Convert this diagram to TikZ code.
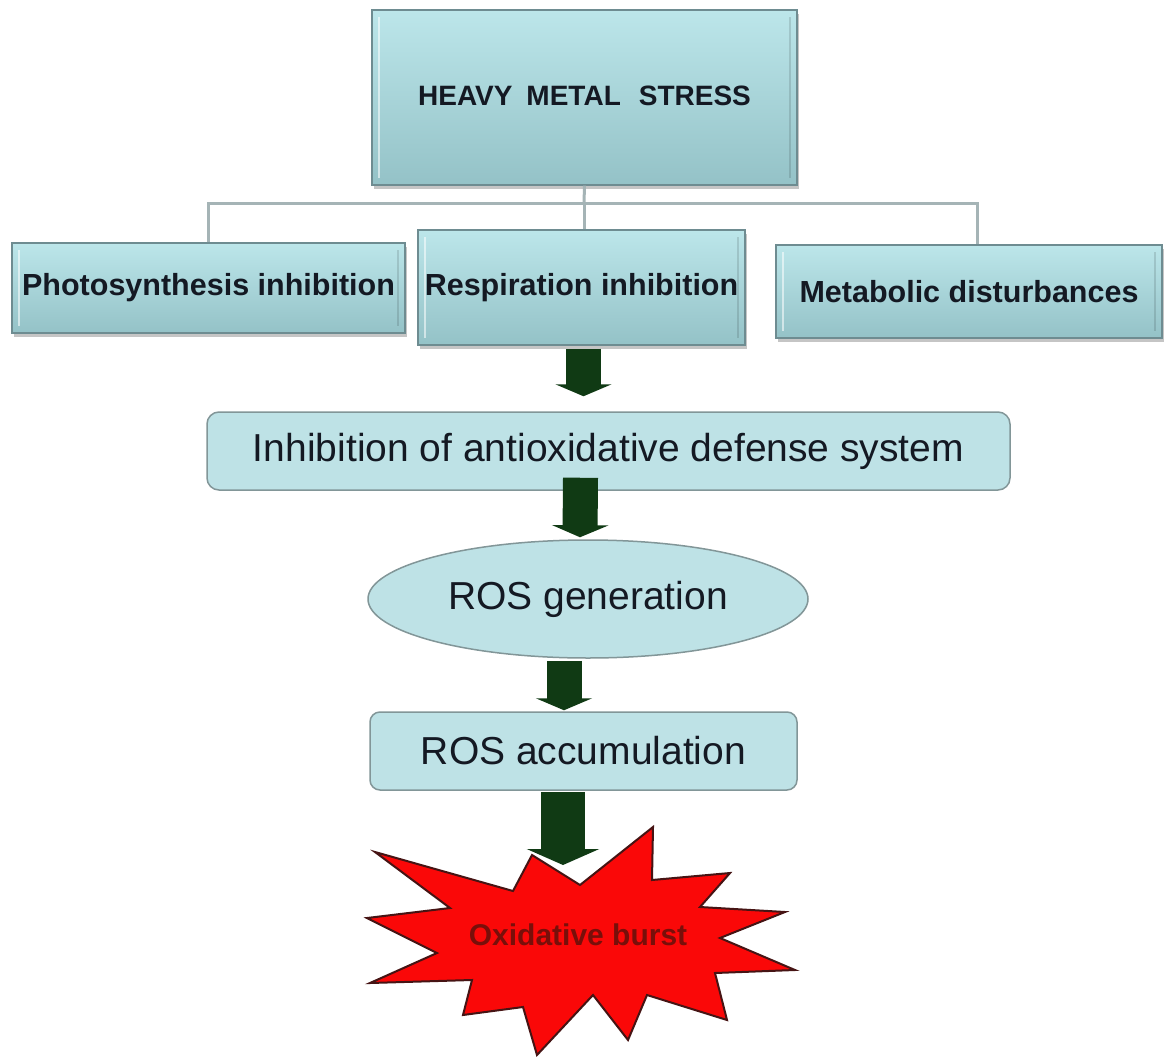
\documentclass[tikz,border=0pt]{standalone}
\usepackage{fontspec}
\setmainfont{Liberation Sans}
\usetikzlibrary{arrows.meta,shapes.geometric,shadows,calc}
\definecolor{boxtop}{RGB}{188,230,234}
\definecolor{boxbot}{RGB}{148,194,199}
\definecolor{boxedge}{RGB}{110,140,145}
\definecolor{flatfill}{RGB}{190,226,230}
\definecolor{flatedge}{RGB}{130,150,152}
\definecolor{conncol}{RGB}{165,180,182}
\definecolor{arrowgreen}{RGB}{16,58,20}
\definecolor{burstred}{RGB}{250,8,8}
\definecolor{burstedge}{RGB}{70,20,20}
\definecolor{burstext}{RGB}{120,15,10}
\definecolor{txt}{RGB}{20,25,35}
\tikzset{
  bevelbox/.style={draw=boxedge, line width=1.2pt, top color=boxtop, bottom color=boxbot,
    drop shadow={shadow xshift=2pt, shadow yshift=-4pt, fill=black!45},
    font=\bfseries\fontsize{30.5}{32}\selectfont, text=txt, inner sep=0pt,
    path picture={
      \draw[white, opacity=0.55, line width=2.5pt]
        ([shift={(7pt,-7pt)}]path picture bounding box.north west) --
        ([shift={(7pt,7pt)}]path picture bounding box.south west);
      \draw[black, opacity=0.12, line width=2.5pt]
        ([shift={(-7pt,-7pt)}]path picture bounding box.north east) --
        ([shift={(-7pt,7pt)}]path picture bounding box.south east);
    }},
  flatbox/.style={draw=flatedge, line width=1.5pt, fill=flatfill, rounded corners=12pt,
    font=\fontsize{39}{42}\selectfont, text=txt, inner sep=0pt},
  flatellipse/.style={ellipse, draw=flatedge, line width=1.5pt, fill=flatfill,
    font=\fontsize{39}{42}\selectfont, text=txt, inner sep=0pt},
  conn/.style={draw=conncol, line width=3pt},
  barrow/.style={draw=arrowgreen, line width=35pt, -{Triangle[width=56pt,length=12pt]}},
  bigarrow/.style={draw=arrowgreen, line width=44pt, -{Triangle[width=72pt,length=16pt]}},
}
\begin{document}
\begin{tikzpicture}[x=1pt,y=-1pt]
\useasboundingbox[fill=white] (0,0) rectangle (1164,1057);

% top box
\node[bevelbox, font=\bfseries\fontsize{28}{30}\selectfont, minimum width=425pt, minimum height=175pt] (top) at (584.5,97.5)
  {\raisebox{3pt}{HEAVY\hspace{14pt}METAL\hspace{18pt}STRESS}};

% second row
\node[bevelbox, minimum width=393pt, minimum height=90pt] (photo) at (208.5,288)
  {Photosynthesis inhibition};
\node[bevelbox, minimum width=327pt, minimum height=115pt] (resp) at (581.5,287.5)
  {Respiration inhibition};
\node[bevelbox, minimum width=386pt, minimum height=93pt] (meta) at (969,291.5)
  {Metabolic disturbances};

% connectors
\coordinate (bus) at (584,203);
\coordinate (metatop) at ($(meta.north)+(8,0)$);
\draw[conn] (top.south) -- (bus);
\draw[conn] (photo.north) |- (bus) -| (metatop);
\draw[conn] (bus) -- (bus |- resp.north);

% lower chain
\node[flatbox, minimum width=803pt, minimum height=78pt] (anti) at (608.5,451)
  {Inhibition of antioxidative defense system};
\node[flatellipse, minimum width=440pt, minimum height=118pt] (gen) at (588,599)
  {ROS generation};
\node[flatbox, rounded corners=10pt, minimum width=427pt, minimum height=78pt] (acc) at (583.5,751)
  {ROS accumulation};

% starburst
\filldraw[fill=burstred, draw=burstedge, line width=2pt, line join=miter]
  (375,852) -- (513,891) -- (532,855) -- (580,885) -- (653,827) -- (652,880)
  -- (730,873) -- (700,907) -- (785,912) -- (720,938) -- (795,970) -- (715,973)
  -- (727,1020) -- (647,995) -- (628,1040) -- (593,995) -- (537,1055) -- (523,1007)
  -- (463,1015) -- (472,980) -- (370,983) -- (437,953) -- (367,918) -- (450,908) -- cycle;
\node[font=\bfseries\fontsize{30}{32}\selectfont, text=burstext, inner sep=0pt] (burst) at (578,935)
  {Oxidative burst};

% block arrows
\draw[barrow] ([xshift=2pt,yshift=-3pt]resp.south) -- ([xshift=-25pt,yshift=15pt]anti.north);
\draw[barrow] ([xshift=-28pt,yshift=13pt]anti.south) -- ([xshift=-8pt,yshift=2pt]gen.north);
\draw[barrow] ([xshift=-24pt,yshift=-2pt]gen.south) -- ([xshift=-19.5pt,yshift=1pt]acc.north);
\draw[bigarrow] ([xshift=-20.5pt,yshift=-1pt]acc.south) -- ([xshift=-15pt,yshift=70pt]burst.center);
\end{tikzpicture}
\end{document}
